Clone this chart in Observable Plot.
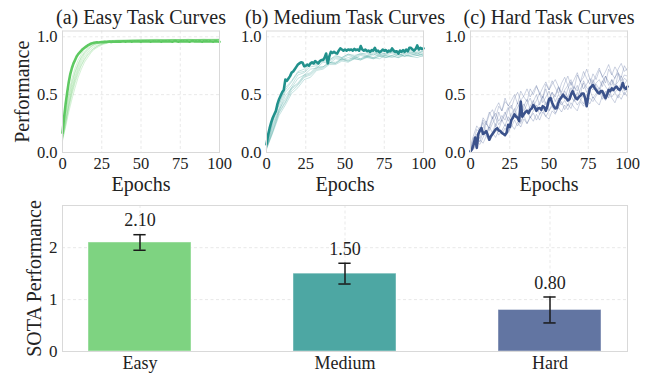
<!DOCTYPE html>
<html><head><meta charset="utf-8">
<script src="https://cdn.jsdelivr.net/npm/d3@7"></script>
<script src="https://cdn.jsdelivr.net/npm/@observablehq/plot@0.6"></script>
<style>
body{margin:0;background:#fff;}
#fig{position:relative;width:652px;height:374px;overflow:hidden;background:#fff;}
#fig svg{position:absolute;left:0;top:0;}
</style></head><body><div id="fig"></div>
<script>
// ---------- data ----------
const epochs = d3.range(0, 101);
const lineXTicks = [0, 25, 50, 75, 100];
const lineYTicks = [0, 0.5, 1.0];

const easyMain = [
  .17,.30,.42,.52,.61,.68,.73,.77,.80,.83,
  .85,.865,.88,.895,.905,.915,.925,.933,.94,.945,
  .948,.950,.952,.951,.953,.955,.954,.956,.955,.957,
  .958,.956,.958,.957,.959,.958,.96,.957,.959,.961,
  .958,.96,.959,.961,.958,.96,.962,.959,.961,.96,
  .958,.961,.96,.962,.959,.961,.958,.96,.962,.96,
  .959,.961,.96,.958,.962,.96,.961,.959,.962,.96,
  .958,.961,.963,.96,.958,.961,.96,.962,.959,.961,
  .96,.958,.961,.963,.96,.962,.959,.961,.96,.958,
  .962,.96,.961,.959,.962,.96,.958,.961,.96,.959,
  .957
];
const easyThinEpochs = [0,2,4,6,8,10,12,14,16,18,20,23,26,30,35,40,45,50,55,60,65,70,75,80,85,90,95,100];
const easyThin = [
  [.15,.33,.49,.61,.70,.77,.83,.87,.90,.92,.935,.95,.96,.965,.97,.968,.972,.97,.975,.972,.97,.974,.971,.975,.972,.976,.973,.975],
  [.12,.28,.43,.56,.66,.74,.80,.85,.88,.91,.93,.945,.955,.96,.965,.968,.966,.97,.968,.972,.969,.971,.973,.97,.974,.972,.97,.973],
  [.10,.24,.38,.50,.60,.68,.75,.80,.84,.87,.90,.925,.94,.955,.962,.966,.97,.968,.972,.97,.975,.972,.974,.977,.973,.976,.978,.975],
  [.16,.35,.52,.64,.73,.80,.85,.89,.91,.93,.945,.955,.962,.968,.97,.972,.975,.973,.976,.978,.975,.977,.974,.978,.976,.979,.977,.98],
  [.13,.27,.40,.52,.62,.70,.76,.81,.85,.88,.90,.925,.943,.955,.963,.967,.969,.972,.97,.974,.972,.975,.977,.974,.976,.975,.978,.976],
  [.11,.22,.35,.46,.56,.65,.72,.78,.82,.86,.89,.915,.935,.95,.96,.965,.968,.97,.973,.971,.975,.973,.976,.974,.977,.975,.973,.977],
  [.14,.31,.46,.59,.69,.76,.82,.86,.89,.915,.93,.948,.958,.964,.968,.97,.968,.972,.97,.973,.971,.974,.972,.975,.973,.974,.976,.974],
  [.12,.26,.41,.54,.64,.72,.78,.83,.865,.895,.915,.935,.95,.96,.966,.969,.971,.974,.972,.976,.974,.977,.975,.978,.976,.978,.975,.979]
];

const mediumMain = [
  .07,.15,.21,.26,.30,.33,.36,.42,.46,.49,
  .52,.54,.63,.62,.64,.66,.69,.70,.72,.74,
  .76,.77,.78,.775,.745,.75,.76,.75,.77,.78,
  .77,.79,.78,.77,.79,.80,.80,.82,.855,.77,
  .83,.87,.86,.87,.86,.855,.88,.90,.89,.88,
  .89,.88,.89,.885,.89,.88,.895,.885,.89,.88,
  .92,.89,.88,.89,.875,.88,.87,.885,.88,.905,
  .875,.88,.865,.875,.89,.88,.885,.87,.88,.875,
  .90,.88,.87,.875,.855,.88,.87,.885,.87,.89,
  .875,.905,.905,.89,.88,.895,.925,.89,.905,.895,
  .90
];
const mediumThinEpochs = d3.range(0, 101, 4);
const mediumThin = [
  [.05,.25,.38,.52,.58,.67,.69,.74,.75,.79,.79,.82,.81,.84,.82,.85,.83,.86,.84,.85,.87,.84,.86,.87,.85,.88],
  [.04,.19,.35,.44,.55,.59,.66,.68,.73,.74,.78,.77,.81,.79,.82,.81,.83,.82,.81,.84,.82,.85,.83,.84,.86,.84],
  [.06,.27,.41,.54,.61,.69,.70,.76,.76,.80,.80,.83,.82,.85,.83,.86,.84,.87,.85,.86,.87,.86,.88,.86,.87,.88],
  [.03,.17,.32,.41,.51,.56,.63,.65,.71,.72,.76,.76,.79,.78,.81,.80,.82,.81,.83,.82,.83,.82,.84,.83,.82,.84],
  [.05,.23,.36,.49,.56,.64,.67,.72,.73,.78,.77,.81,.80,.82,.81,.84,.82,.85,.83,.84,.86,.83,.86,.85,.84,.86],
  [.04,.21,.37,.46,.56,.60,.67,.69,.74,.74,.78,.78,.81,.80,.83,.81,.84,.82,.85,.83,.84,.86,.83,.86,.84,.85],
  [.07,.28,.42,.56,.62,.70,.72,.77,.77,.81,.80,.84,.82,.85,.84,.85,.86,.84,.87,.85,.88,.86,.87,.88,.86,.87],
  [.03,.18,.34,.43,.53,.58,.65,.67,.72,.73,.77,.77,.80,.79,.81,.80,.83,.81,.84,.82,.84,.82,.85,.83,.84,.83]
];

const hardMain = [
  .01,.03,.07,.13,.04,.16,.19,.21,.16,.17,
  .185,.15,.11,.14,.16,.18,.20,.21,.19,.185,
  .17,.16,.15,.17,.24,.22,.28,.30,.33,.31,
  .30,.27,.44,.31,.33,.35,.36,.34,.37,.38,
  .41,.39,.36,.38,.385,.37,.40,.39,.36,.40,
  .46,.47,.43,.40,.38,.385,.43,.46,.48,.50,
  .48,.47,.45,.46,.50,.53,.50,.47,.46,.48,
  .49,.51,.51,.47,.40,.49,.555,.57,.585,.56,
  .54,.52,.51,.53,.53,.50,.47,.50,.54,.53,
  .555,.54,.56,.57,.55,.54,.56,.60,.56,.55,
  .57
];
const hardThinEpochs = d3.range(0, 101, 2);
const hardThin = [
  [.05,.10,.20,.17,.28,.24,.33,.37,.30,.40, .36,.44,.41,.38,.47,.52,.45,.49,.55,.48, .53,.58,.50,.56,.61,.54,.59,.63,.57,.52, .60,.66,.58,.63,.69,.61,.65,.72,.64,.60, .67,.73,.65,.70,.76,.68,.64,.72,.77,.70, .73],
  [.02,.09,.14,.22,.16,.25,.21,.29,.34,.27, .32,.28,.37,.41,.33,.39,.44,.36,.42,.47, .40,.45,.51,.43,.48,.53,.46,.50,.56,.49, .54,.58,.50,.57,.53,.61,.55,.59,.64,.56, .60,.63,.57,.66,.61,.58,.65,.69,.62,.67, .66],
  [.00,.04,.09,.07,.13,.18,.12,.16,.21,.15, .19,.24,.18,.22,.28,.23,.27,.32,.25,.30, .34,.28,.33,.37,.31,.36,.40,.34,.39,.44, .37,.42,.38,.46,.41,.45,.50,.43,.47,.44, .49,.53,.46,.51,.56,.48,.52,.47,.55,.50, .54],
  [.03,.13,.08,.19,.26,.17,.23,.31,.22,.35, .27,.33,.39,.30,.36,.43,.34,.40,.46,.37, .44,.50,.41,.47,.55,.45,.52,.48,.57,.51, .46,.55,.61,.52,.58,.50,.62,.56,.53,.63, .57,.52,.61,.66,.58,.63,.55,.68,.60,.64, .62],
  [.01,.03,.07,.11,.08,.14,.10,.17,.13,.19, .16,.21,.17,.24,.20,.26,.22,.29,.25,.31, .27,.33,.28,.35,.31,.29,.36,.33,.39,.35, .41,.37,.43,.39,.36,.44,.40,.46,.42,.48, .44,.41,.49,.45,.51,.47,.43,.50,.46,.52, .48],
  [.06,.15,.23,.19,.30,.26,.35,.29,.38,.43, .36,.47,.40,.45,.50,.42,.53,.48,.44,.55, .50,.57,.52,.47,.59,.54,.62,.56,.51,.60, .65,.58,.63,.55,.67,.61,.70,.64,.59,.68, .63,.71,.66,.60,.72,.67,.74,.69,.65,.75, .70],
  [.04,.08,.16,.12,.21,.27,.19,.25,.30,.24, .29,.35,.27,.33,.38,.31,.37,.42,.35,.40, .45,.38,.43,.49,.41,.47,.52,.44,.50,.46, .53,.48,.56,.51,.47,.55,.60,.52,.57,.54, .59,.55,.62,.57,.53,.63,.58,.61,.66,.59, .63],
  [.02,.06,.12,.09,.18,.14,.22,.17,.25,.20, .28,.23,.31,.26,.34,.29,.25,.33,.37,.30, .36,.41,.33,.38,.44,.36,.42,.39,.47,.41, .45,.40,.49,.44,.52,.46,.42,.50,.54,.47, .51,.56,.49,.53,.47,.57,.52,.55,.60,.53, .58]
];

const tasks = ["Easy", "Medium", "Hard"];
const sotaValues = [2.10, 1.50, 0.80];
const sotaErrors = [0.15, 0.20, 0.25];
const barYTicks = [0, 1, 2];

// ---------- styling ----------
const FONT = "Liberation Serif, Times New Roman, serif";
const TEXT = "#222";
const GRID = "#e3e3e3";
const FRAME = "#d9d9d9";
const lineColors = ["#5ec962", "#21918c", "#3b528b"];
const barColors = ["#7ed381", "#4da7a3", "#6275a2"];
const W = 652;
const SVG_STYLE = `background: transparent; font-family: ${FONT}; color: ${TEXT}; overflow: visible;`;
const fig = document.getElementById("fig");
const gridOpts = {stroke: GRID, strokeOpacity: 1, strokeDasharray: "3,2.5", strokeWidth: 0.8};

function linePanel({left, right, title, color, main, thinEpochs, thin, yLabel}) {
  const thinRows = thin.flatMap((vals, k) => vals.map((v, i) => ({epoch: thinEpochs[i], value: v, run: k})));
  const mainRows = main.map((v, i) => ({epoch: epochs[i], value: v}));
  return Plot.plot({
    width: W, height: 200,
    marginLeft: left, marginRight: W - right, marginTop: 30.5, marginBottom: 48,
    style: SVG_STYLE,
    x: {domain: [0, 100]},
    y: {domain: [0, 1.05]},
    marks: [
      Plot.gridX(lineXTicks, gridOpts),
      Plot.gridY(lineYTicks, gridOpts),
      Plot.line(thinRows, {x: "epoch", y: "value", z: "run", stroke: color, strokeOpacity: 0.26, strokeWidth: 1}),
      Plot.line(mainRows, {x: "epoch", y: "value", stroke: color, strokeWidth: 2.6}),
      Plot.frame({stroke: FRAME, strokeWidth: 1}),
      Plot.axisX(lineXTicks, {tickSize: 0, tickPadding: 5, fontSize: 16.5, fontFamily: FONT, label: null, fill: TEXT}),
      Plot.axisY(lineYTicks, {tickSize: 0, tickPadding: 5, fontSize: 16.5, fontFamily: FONT, label: null, fill: TEXT, tickFormat: d3.format(".1f")}),
      Plot.text([title], {text: d => d, frameAnchor: "top", dy: -13.5, textAnchor: "middle", lineAnchor: "middle", fontSize: 20, fontFamily: FONT, fill: TEXT}),
      Plot.text(["Epochs"], {text: d => d, frameAnchor: "bottom", dy: 32.5, textAnchor: "middle", lineAnchor: "middle", fontSize: 20, fontFamily: FONT, fill: TEXT}),
      yLabel ? Plot.text([yLabel], {text: d => d, frameAnchor: "left", dx: -40, rotate: -90, textAnchor: "middle", lineAnchor: "middle", fontSize: 20, fontFamily: FONT, fill: TEXT}) : null
    ]
  });
}

fig.appendChild(linePanel({left: 62, right: 219, title: "(a) Easy Task Curves", color: lineColors[0], main: easyMain, thinEpochs: easyThinEpochs, thin: easyThin, yLabel: "Performance"}));
fig.appendChild(linePanel({left: 266, right: 423, title: "(b) Medium Task Curves", color: lineColors[1], main: mediumMain, thinEpochs: mediumThinEpochs, thin: mediumThin}));
fig.appendChild(linePanel({left: 470, right: 627, title: "(c) Hard Task Curves", color: lineColors[2], main: hardMain, thinEpochs: hardThinEpochs, thin: hardThin}));

// bar chart
const rows = tasks.map((t, i) => ({task: t, value: sotaValues[i], err: sotaErrors[i], color: barColors[i]}));
const bL = 62, bR = 627;
const step = (bR - bL) / 2.75;
const bandW = step * 0.5;
const capW = 12;
const capInset = (bandW - capW) / 2;

fig.appendChild(Plot.plot({
  width: W, height: 374,
  marginLeft: bL, marginRight: W - bR, marginTop: 205, marginBottom: 23,
  style: SVG_STYLE,
  x: {domain: tasks, paddingInner: 0.5, paddingOuter: 0.125},
  y: {domain: [0, 2.8125]},
  color: {type: "identity"},
  marks: [
    Plot.gridY(barYTicks, gridOpts),
    Plot.gridX(tasks, gridOpts),
    Plot.barY(rows, {x: "task", y: "value", fill: "color", stroke: "#ffffff", strokeOpacity: 0.45, strokeWidth: 1}),
    Plot.ruleX(rows, {x: "task", y1: d => d.value - d.err, y2: d => d.value + d.err, stroke: "#1a1a1a", strokeWidth: 1.5}),
    Plot.tickY(rows, {x: "task", y: d => d.value + d.err, insetLeft: capInset, insetRight: capInset, stroke: "#1a1a1a", strokeWidth: 1.5}),
    Plot.tickY(rows, {x: "task", y: d => d.value - d.err, insetLeft: capInset, insetRight: capInset, stroke: "#1a1a1a", strokeWidth: 1.5}),
    Plot.frame({stroke: FRAME, strokeWidth: 1}),
    Plot.text(rows, {x: "task", y: d => d.value + d.err, text: d => d.value.toFixed(2), dy: -14, lineAnchor: "middle", fontSize: 18, fontFamily: FONT, fill: TEXT}),
    Plot.axisX(tasks, {tickSize: 0, tickPadding: 5, fontSize: 18, fontFamily: FONT, label: null, fill: TEXT}),
    Plot.axisY(barYTicks, {tickSize: 0, tickPadding: 5, fontSize: 17, fontFamily: FONT, label: null, fill: TEXT, tickFormat: d3.format("d")}),
    Plot.text(["SOTA Performance"], {text: d => d, frameAnchor: "left", dx: -27.5, rotate: -90, textAnchor: "middle", lineAnchor: "middle", fontSize: 20, fontFamily: FONT, fill: TEXT})
  ]
}));
</script>
</body></html>
